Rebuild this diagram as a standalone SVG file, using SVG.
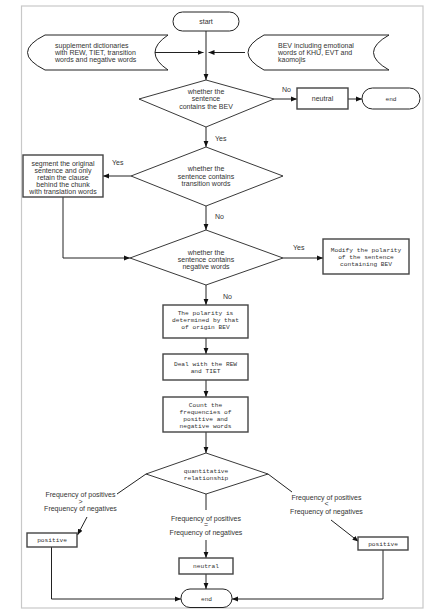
<svg xmlns="http://www.w3.org/2000/svg" width="437" height="613" viewBox="0 0 437 613">
<style>
.bg{fill:#fff}
.frame{fill:none;stroke:#c8c8c8;stroke-width:1.2}
.shape{fill:#fff;stroke:#222;stroke-width:1}
.box{fill:#fff;stroke:#444;stroke-width:1.4}
.dia{fill:#fff;stroke:#222;stroke-width:0.9}
.conn{fill:none;stroke:#222;stroke-width:1}
.s{font-family:"Liberation Sans",Arial,sans-serif;font-size:7px;fill:#333}
.m{font-family:"Liberation Mono","Courier New",monospace;font-size:6.2px;fill:#333}
.c{text-anchor:middle}
</style>
<defs>
<marker id="arr" markerUnits="userSpaceOnUse" markerWidth="6" markerHeight="6" viewBox="0 0 6 6" refX="6" refY="3" orient="auto">
<path d="M0,0.6 L6,3 L0,5.4 Z" fill="#111"/>
</marker>
</defs>
<rect class="bg" x="0" y="0" width="437" height="613"/>
<rect class="frame" x="21.5" y="6" width="401.5" height="602"/>

<g id="connectors">
<path class="conn" d="M206,31 V80" marker-end="url(#arr)"/>
<path class="conn" d="M147,52.5 H203.5" marker-end="url(#arr)"/>
<path class="conn" d="M245,52.5 H208.5" marker-end="url(#arr)"/>
<path class="conn" d="M274,99 H297" marker-end="url(#arr)"/>
<path class="conn" d="M348,99 H362" marker-end="url(#arr)"/>
<path class="conn" d="M206,127 V147" marker-end="url(#arr)"/>
<path class="conn" d="M131,176 H103" marker-end="url(#arr)"/>
<path class="conn" d="M206,206 V230" marker-end="url(#arr)"/>
<path class="conn" d="M63,197 V258 H130" marker-end="url(#arr)"/>
<path class="conn" d="M283,258 H323" marker-end="url(#arr)"/>
<path class="conn" d="M206,285 V305" marker-end="url(#arr)"/>
<path class="conn" d="M206,338 V354" marker-end="url(#arr)"/>
<path class="conn" d="M206,380 V397" marker-end="url(#arr)"/>
<path class="conn" d="M206,432 V453" marker-end="url(#arr)"/>
<path class="conn" d="M146,474 L117,494"/>
<path class="conn" d="M87,517 L77.5,535" marker-end="url(#arr)"/>
<path class="conn" d="M268,474 L292,492"/>
<path class="conn" d="M331,520 L358.5,541.5" marker-end="url(#arr)"/>
<path class="conn" d="M206,494 V510"/>
<path class="conn" d="M206,540 V558" marker-end="url(#arr)"/>
<path class="conn" d="M206,574 V589" marker-end="url(#arr)"/>
<path class="conn" d="M51.5,547 V599 H181" marker-end="url(#arr)"/>
<path class="conn" d="M383,550 V599 H232" marker-end="url(#arr)"/>
</g>

<g id="start">
<rect class="shape" x="173" y="12" width="66" height="19" rx="9.5"/>
<text class="s c" x="206" y="24">start</text>
</g>

<g id="dict">
<path class="shape" d="M45,35 H168 Q142,52.5 168,70 H45 Q10,52.5 45,35 Z"/>
<text class="s" x="55" y="47.5">supplement dictionaries</text>
<text class="s" x="55" y="54.5">with REW, TIET, transition</text>
<text class="s" x="55" y="61.5">words and negative words</text>
</g>

<g id="bev">
<path class="shape" d="M264,35 H389 Q358,52.5 389,70 H264 Q232,52.5 264,35 Z"/>
<text class="s" x="278" y="47.5">BEV including emotional</text>
<text class="s" x="278" y="54.5">words of KHU, EVT and</text>
<text class="s" x="278" y="61.5">kaomojis</text>
</g>

<g id="d1">
<polygon class="dia" points="206,80 274,99 206,127 139,99"/>
<text class="s c" x="206" y="93.5">whether the</text>
<text class="s c" x="206" y="101">sentence</text>
<text class="s c" x="206" y="108.5">contains the BEV</text>
</g>

<g id="neutral1">
<rect class="box" x="297" y="88" width="51" height="21"/>
<text class="s c" x="322.5" y="101">neutral</text>
</g>

<g id="end1">
<rect class="shape" x="362" y="88" width="58" height="21" rx="10.5"/>
<text class="m c" x="391" y="100.5">end</text>
</g>

<g id="d2">
<polygon class="dia" points="206,147 283,176 206,206 131,176"/>
<text class="s c" x="206" y="171">whether the</text>
<text class="s c" x="206" y="178.5">sentence contains</text>
<text class="s c" x="206" y="186">transition words</text>
</g>

<g id="segment">
<rect class="box" x="23" y="155" width="80" height="42"/>
<text class="s c" x="63" y="165.5">segment the original</text>
<text class="s c" x="63" y="172.5">sentence and only</text>
<text class="s c" x="63" y="179.5">retain the clause</text>
<text class="s c" x="63" y="186.5">behind the chunk</text>
<text class="s c" x="63" y="193.8">with translation words</text>
</g>

<g id="d3">
<polygon class="dia" points="206,230 283,258 206,285 130,258"/>
<text class="s c" x="206" y="255">whether the</text>
<text class="s c" x="206" y="262">sentence contains</text>
<text class="s c" x="206" y="269">negative words</text>
</g>

<g id="modify">
<rect class="box" x="323" y="239" width="86" height="35"/>
<text class="m c" x="366" y="252">Modify the polarity</text>
<text class="m c" x="366" y="259">of the sentence</text>
<text class="m c" x="366" y="266.3">containing BEV</text>
</g>

<g id="polarity">
<rect class="box" x="163" y="305" width="85" height="33"/>
<text class="m c" x="205.5" y="315">The polarity is</text>
<text class="m c" x="205.5" y="322">determined by that</text>
<text class="m c" x="205.5" y="329">of origin BEV</text>
</g>

<g id="deal">
<rect class="box" x="163" y="354" width="85" height="26"/>
<text class="m c" x="205.5" y="366">Deal with the REW</text>
<text class="m c" x="205.5" y="373.3">and TIET</text>
</g>

<g id="count">
<rect class="box" x="163" y="397" width="85" height="35"/>
<text class="m c" x="205.5" y="407">Count the</text>
<text class="m c" x="205.5" y="414">frequencies of</text>
<text class="m c" x="205.5" y="421">positive and</text>
<text class="m c" x="205.5" y="428">negative words</text>
</g>

<g id="d4">
<polygon class="dia" points="206,453 268,474 206,494 146,474"/>
<text class="m c" x="206" y="473">quantitative</text>
<text class="m c" x="206" y="480.3">relationship</text>
</g>

<g id="labels">
<text class="s" x="282" y="91.5">No</text>
<text class="s" x="215" y="140.5">Yes</text>
<text class="s" x="112" y="164.5">Yes</text>
<text class="s" x="215" y="218.5">No</text>
<text class="s" x="293" y="249.5">Yes</text>
<text class="s" x="223" y="298.5">No</text>
<text class="s c" x="80.5" y="497">Frequency of positives</text>
<text class="s c" x="80.5" y="503.5">&gt;</text>
<text class="s c" x="80.5" y="511">Frequency of negatives</text>
<text class="s c" x="206" y="520.5">Frequency of positives</text>
<text class="s c" x="206" y="527">=</text>
<text class="s c" x="206" y="534.5">Frequency of negatives</text>
<text class="s c" x="326.5" y="499.5">Frequency of positives</text>
<text class="s c" x="326.5" y="506">&lt;</text>
<text class="s c" x="326.5" y="513.5">Frequency of negatives</text>
</g>

<g id="positive1">
<rect class="box" x="27" y="533" width="50" height="14"/>
<text class="m c" x="52" y="542">positive</text>
</g>

<g id="positive2">
<rect class="box" x="358" y="537" width="50" height="13"/>
<text class="m c" x="383" y="545.5">positive</text>
</g>

<g id="neutral2">
<rect class="box" x="179" y="558" width="54" height="16"/>
<text class="m c" x="206" y="568">neutral</text>
</g>

<g id="end2">
<rect class="shape" x="181" y="589" width="51" height="18.5" rx="9"/>
<text class="m c" x="206.5" y="600.5">end</text>
</g>
</svg>
